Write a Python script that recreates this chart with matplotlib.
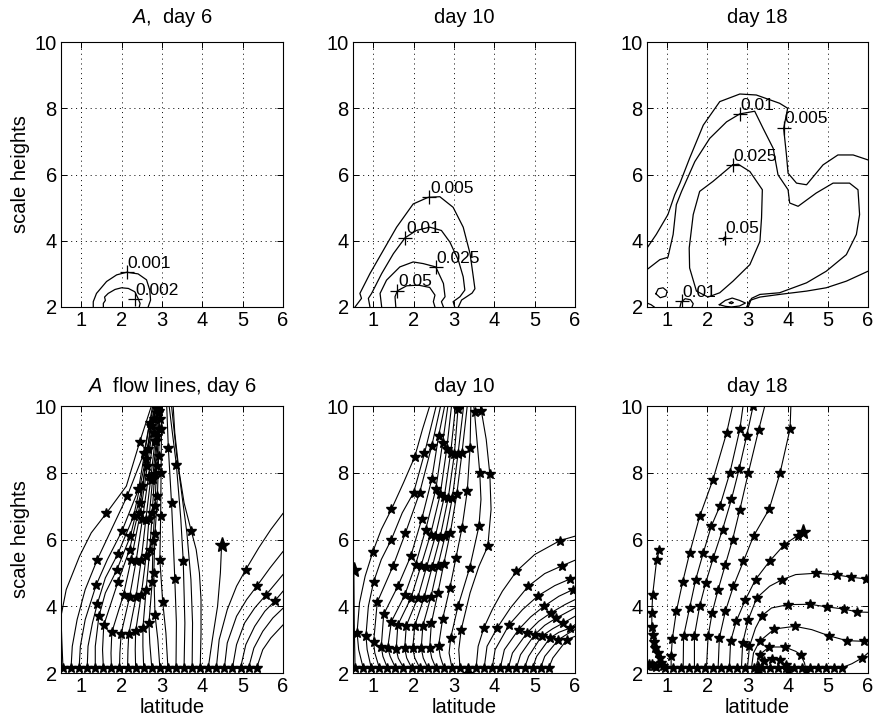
import matplotlib
matplotlib.use('Agg')
import matplotlib.pyplot as plt

plt.rcParams['font.family'] = ['Liberation Sans', 'DejaVu Sans']
plt.rcParams['mathtext.fontset'] = 'custom'
plt.rcParams['mathtext.rm'] = 'Liberation Sans'
plt.rcParams['mathtext.it'] = 'Liberation Sans:italic'

# ---------------- top row: contours of A (traced lines) ----------------
day6_contours = [
    ([1.30, 1.30, 1.38, 1.63, 1.88, 2.13, 2.41, 2.62, 2.70, 2.72, 2.66],
     [2.0, 2.16, 2.41, 2.77, 2.97, 3.05, 3.00, 2.82, 2.51, 2.21, 2.0]),
    ([1.55, 1.55, 1.60, 1.58, 1.67, 1.84, 2.00, 2.17, 2.33, 2.41, 2.46, 2.44],
     [2.0, 2.11, 2.20, 2.30, 2.41, 2.53, 2.58, 2.56, 2.46, 2.26, 2.11, 2.0]),
]
day6_labels = [(2.13, 3.05, '0.001'), (2.33, 2.23, '0.002')]

day10_contours = [
    ([0.55, 0.71, 0.67, 0.92, 1.25, 1.58, 1.99, 2.36, 2.65, 2.98, 3.23, 3.40, 3.48, 3.52, 3.45, 3.19, 3.11],
     [2.0, 2.26, 2.41, 3.01, 3.71, 4.41, 5.11, 5.31, 5.33, 5.01, 4.41, 3.61, 2.91, 2.55, 2.42, 2.21, 2.0]),
    ([0.92, 0.88, 0.96, 1.21, 1.50, 1.79, 2.07, 2.40, 2.69, 2.90, 3.11, 3.23, 3.27, 3.15, 2.98, 3.02],
     [2.0, 2.26, 2.41, 3.01, 3.61, 4.09, 4.31, 4.41, 4.31, 3.96, 3.41, 2.91, 2.51, 2.31, 2.16, 2.0]),
    ([1.21, 1.17, 1.33, 1.66, 1.99, 2.24, 2.55, 2.74, 2.78, 2.69, 2.74],
     [2.0, 2.41, 2.81, 3.21, 3.36, 3.31, 3.21, 2.71, 2.31, 2.16, 2.0]),
    ([1.56, 1.54, 1.60, 1.83, 2.12, 2.40, 2.53, 2.49, 2.53],
     [2.0, 2.31, 2.49, 2.64, 2.66, 2.59, 2.36, 2.16, 2.0]),
]
day10_labels = [(2.39, 5.31, '0.005'), (1.79, 4.09, '0.01'),
                (2.55, 3.21, '0.025'), (1.60, 2.49, '0.05')]

day18_contours = [
    ([0.50, 0.73, 1.02, 1.19, 1.32, 1.56, 1.90, 2.31, 2.81, 3.22, 3.80, 4.00, 3.90, 3.97, 4.01,
      4.22, 4.47, 4.88, 5.25, 5.63, 6.00],
     [3.78, 4.19, 4.79, 5.39, 5.74, 6.49, 7.49, 8.20, 8.43, 8.40, 8.15, 8.00, 7.39, 6.59, 6.04,
      5.74, 5.69, 6.29, 6.59, 6.59, 6.44]),
    ([6.00, 5.46, 4.96, 4.47, 3.80, 3.31, 3.06, 2.98],
     [3.08, 2.78, 2.58, 2.48, 2.38, 2.30, 2.20, 2.00]),
    ([0.50, 0.82, 1.02, 1.15, 1.23, 1.36, 1.69, 2.06, 2.48, 2.81, 3.18, 3.39, 3.64, 3.76, 4.01,
      4.05, 4.26, 4.71, 5.13, 5.54, 5.75, 5.79, 5.71, 5.46, 4.96, 4.47, 3.80, 3.31, 3.10, 3.02],
     [3.13, 3.43, 3.50, 4.19, 5.09, 5.49, 6.39, 7.09, 7.59, 7.83, 7.91, 7.39, 6.79, 5.99, 5.54,
      5.14, 5.04, 5.44, 5.74, 5.74, 5.54, 4.79, 4.19, 3.58, 3.08, 2.73, 2.43, 2.38, 2.26, 2.00]),
    ([2.63, 2.77, 3.06, 3.37, 3.35, 3.31, 3.06, 2.64, 2.31, 2.02, 1.73, 1.56, 1.55, 1.65, 1.81, 2.14, 2.63],
     [6.29, 6.31, 6.09, 5.54, 4.69, 3.98, 3.28, 2.78, 2.43, 2.30, 2.48, 3.18, 3.78, 4.79, 5.49, 5.79, 6.29]),
    ([0.72, 0.78, 0.90, 1.00, 0.97, 0.83, 0.72],
     [2.40, 2.55, 2.58, 2.48, 2.33, 2.28, 2.40]),
    ([1.32, 1.35, 1.45, 1.58, 1.65, 1.62],
     [2.00, 2.15, 2.25, 2.22, 2.10, 2.00]),
    ([2.30, 2.45, 2.62, 2.80, 2.95, 2.80, 2.60, 2.45, 2.30],
     [2.07, 2.20, 2.27, 2.20, 2.12, 2.03, 2.00, 2.02, 2.07]),
    ([2.55, 2.60, 2.65, 2.60, 2.55], [2.13, 2.16, 2.13, 2.10, 2.13]),
    ([0.50, 0.60, 0.68], [2.12, 2.07, 2.00]),
    ([2.40, 2.44, 2.46, 2.42, 2.40], [4.02, 4.06, 4.12, 4.10, 4.02]),
]
day18_labels = [(2.81, 7.83, '0.01'), (3.90, 7.41, '0.005'), (2.63, 6.29, '0.025'),
                (2.43, 4.09, '0.05'), (1.36, 2.18, '0.01')]

# ---------------- bottom row: flow lines (vertices, star indices) ----------------
base_y = 2.16

day6_base_x = [0.55, 0.75, 0.95, 1.15, 1.35, 1.55, 1.75, 1.95, 2.15, 2.35, 2.55, 2.75, 2.95,
               3.15, 3.35, 3.55, 3.75, 3.95, 4.15, 4.35, 4.55, 4.75, 4.95, 5.15, 5.35]
day6_lines = [
    ([(0.55, 2.16), (0.52, 3.0), (0.50, 3.7), (0.63, 4.5), (0.96, 5.5), (1.25, 6.2), (1.62, 6.78),
      (2.12, 7.6), (2.45, 8.92), (2.74, 10)], [6, 8]),
    ([(0.75, 2.16), (0.78, 2.8), (0.90, 3.6), (1.10, 4.5), (1.40, 5.40), (1.75, 6.3), (2.14, 7.3),
      (2.56, 8.6), (2.77, 10)], [4, 6, 7]),
    ([(0.95, 2.16), (0.98, 2.8), (1.10, 3.6), (1.37, 4.63), (1.65, 5.4), (2.01, 6.25), (2.42, 7.5),
      (2.70, 9.5), (2.80, 10)], [3, 5, 6, 7]),
    ([(1.15, 2.16), (1.17, 2.8), (1.28, 3.5), (1.40, 4.07), (1.60, 4.85), (1.91, 5.57), (2.30, 6.7),
      (2.60, 8.4), (2.82, 10)], [3, 5, 6, 7]),
    ([(1.35, 2.16), (1.35, 2.8), (1.44, 3.70), (1.60, 4.4), (1.88, 5.08), (2.22, 6.1), (2.52, 7.6),
      (2.72, 9.4), (2.84, 10)], [2, 4, 5, 6, 7]),
    ([(1.55, 2.16), (1.53, 2.7), (1.56, 3.43), (1.91, 4.72), (2.20, 5.7), (2.47, 7.1), (2.66, 8.7),
      (2.86, 10)], [2, 3, 4, 5, 6]),
    ([(1.75, 2.16), (1.74, 2.6), (1.76, 3.22), (2.05, 4.35), (2.24, 5.40), (2.47, 6.8), (2.64, 8.2),
      (2.80, 9.6), (2.88, 10)], [2, 3, 4, 5, 6, 7]),
    ([(1.95, 2.16), (1.96, 2.6), (1.99, 3.17), (2.20, 4.28), (2.36, 5.35), (2.52, 6.62), (2.67, 7.9),
      (2.80, 9.2), (2.90, 10)], [2, 3, 4, 5, 6, 7]),
    ([(2.15, 2.16), (2.16, 2.7), (2.18, 3.17), (2.36, 4.28), (2.49, 5.40), (2.60, 6.58), (2.72, 7.78),
      (2.83, 8.95), (2.88, 9.9), (2.92, 10)], [2, 3, 4, 5, 6, 7, 8]),
    ([(2.35, 2.16), (2.34, 2.7), (2.35, 3.25), (2.49, 4.35), (2.61, 5.5), (2.68, 6.62), (2.77, 7.8),
      (2.86, 8.95), (2.90, 9.8), (2.93, 10)], [2, 3, 4, 5, 6, 7, 8]),
    ([(2.55, 2.16), (2.53, 2.8), (2.53, 3.35), (2.61, 4.5), (2.70, 5.68), (2.76, 6.78), (2.82, 7.95),
      (2.89, 9.1), (2.93, 9.85), (2.95, 10)], [2, 3, 4, 5, 6, 7, 8]),
    ([(2.75, 2.16), (2.70, 2.9), (2.68, 3.5), (2.76, 4.72), (2.78, 5.95), (2.83, 7.0), (2.87, 8.2),
      (2.92, 9.3), (2.96, 10)], [2, 3, 4, 5, 6, 7]),
    ([(2.95, 2.16), (2.90, 3.0), (2.83, 3.75), (2.80, 5.0), (2.83, 6.18), (2.89, 7.3), (2.92, 8.5),
      (2.95, 9.6), (2.98, 10)], [2, 3, 4, 5, 6, 7]),
    ([(3.15, 2.16), (3.10, 3.2), (3.02, 4.14), (2.95, 5.4), (2.97, 6.7), (2.98, 8.0), (2.99, 9.3),
      (3.00, 10)], [2, 3, 4, 5, 6]),
    ([(3.35, 2.16), (3.36, 3.5), (3.32, 4.83), (3.28, 6.0), (3.24, 7.08), (3.16, 8.75), (3.12, 10)],
     [2, 4, 5]),
    ([(3.55, 2.16), (3.57, 3.5), (3.53, 5.35), (3.47, 6.6), (3.36, 8.23), (3.25, 9.3), (3.18, 10)],
     [2, 4]),
    ([(3.75, 2.16), (3.76, 3.5), (3.72, 4.8), (3.62, 6.2), (3.50, 7.3), (3.36, 8.6), (3.24, 10)], []),
    ([(3.95, 2.16), (3.97, 3.2), (3.97, 4.2), (3.93, 5.0), (3.85, 5.7), (3.73, 6.25), (3.55, 7.1),
      (3.42, 8.1), (3.32, 9.2), (3.28, 10)], [5]),
    ([(4.15, 2.16), (4.25, 3.0), (4.38, 4.0), (4.45, 5.0), (4.48, 5.85)], []),
    ([(4.35, 2.16), (4.42, 3.0), (4.62, 3.9), (4.85, 4.6), (5.08, 5.10), (5.40, 5.75), (5.70, 6.3),
      (6.00, 6.78)], [4]),
    ([(4.55, 2.16), (4.62, 2.9), (4.85, 3.7), (5.10, 4.2), (5.35, 4.6), (5.68, 5.15), (6.00, 5.64)], [4]),
    ([(4.75, 2.16), (4.85, 2.85), (5.05, 3.5), (5.30, 3.95), (5.58, 4.34), (6.00, 4.95)], [4]),
    ([(4.95, 2.16), (5.08, 2.85), (5.30, 3.4), (5.55, 3.85), (5.80, 4.16), (6.00, 4.45)], [4]),
    ([(5.15, 2.16), (5.28, 2.75), (5.50, 3.25), (5.75, 3.65), (6.00, 3.94)], []),
    ([(5.35, 2.16), (5.50, 2.7), (5.70, 3.05), (6.00, 3.44)], []),
]
day6_ends = [(4.48, 5.85)]

day10_base_x = list(day6_base_x)
day10_lines = [
    ([(0.55, 2.16), (0.53, 3.5), (0.52, 5.1)], []),
    ([(0.75, 2.16), (0.64, 2.7), (0.60, 3.21), (0.66, 4.1), (0.80, 4.9), (0.99, 5.63), (1.20, 6.3),
      (1.45, 6.9), (1.75, 7.7), (2.03, 8.48), (2.22, 9.3), (2.40, 10)], [2, 5, 7, 9]),
    ([(0.95, 2.16), (0.85, 2.7), (0.82, 3.12), (0.88, 4.0), (1.01, 4.73), (1.20, 5.4), (1.45, 6.0),
      (1.72, 6.8), (2.00, 7.4), (2.27, 8.58), (2.56, 10)], [2, 4, 6, 8, 9]),
    ([(1.15, 2.16), (1.04, 2.6), (1.01, 2.92), (1.10, 4.12), (1.49, 5.2), (1.80, 6.2), (2.15, 7.4),
      (2.45, 8.8), (2.67, 10)], [2, 3, 4, 5, 6, 7]),
    ([(1.35, 2.16), (1.24, 2.5), (1.20, 2.79), (1.26, 3.76), (1.61, 4.6), (1.93, 5.5), (2.20, 6.6),
      (2.45, 7.8), (2.62, 9.1), (2.77, 10)], [2, 3, 4, 5, 6, 7, 8]),
    ([(1.55, 2.16), (1.42, 2.5), (1.36, 2.76), (1.45, 3.54), (1.78, 4.33), (2.05, 5.25), (2.30, 6.3),
      (2.55, 7.5), (2.72, 8.9), (2.85, 10)], [2, 3, 4, 5, 6, 7, 8]),
    ([(1.75, 2.16), (1.62, 2.45), (1.57, 2.72), (1.61, 3.44), (1.94, 4.26), (2.18, 5.2), (2.42, 6.15),
      (2.66, 7.35), (2.82, 8.7), (2.94, 10)], [2, 3, 4, 5, 6, 7, 8]),
    ([(1.95, 2.16), (1.83, 2.45), (1.78, 2.74), (1.82, 3.42), (2.10, 4.24), (2.32, 5.17), (2.54, 6.1),
      (2.76, 7.27), (2.92, 8.6), (3.04, 10)], [2, 3, 4, 5, 6, 7, 8]),
    ([(2.15, 2.16), (2.03, 2.45), (1.98, 2.74), (2.03, 3.42), (2.26, 4.26), (2.46, 5.17), (2.66, 6.08),
      (2.86, 7.25), (3.01, 8.55), (3.10, 9.9), (3.14, 10)], [2, 3, 4, 5, 6, 7, 8, 9]),
    ([(2.35, 2.16), (2.24, 2.45), (2.19, 2.74), (2.23, 3.42), (2.43, 4.28), (2.60, 5.2), (2.78, 6.1),
      (2.96, 7.25), (3.10, 8.55), (3.24, 10)], [2, 3, 4, 5, 6, 7, 8]),
    ([(2.55, 2.16), (2.45, 2.45), (2.40, 2.76), (2.44, 3.49), (2.60, 4.39), (2.75, 5.28), (2.91, 6.2),
      (3.07, 7.35), (3.20, 8.6), (3.33, 10)], [2, 3, 4, 5, 6, 7, 8]),
    ([(2.75, 2.16), (2.66, 2.5), (2.62, 2.82), (2.72, 3.62), (2.90, 4.55), (3.05, 5.45), (3.20, 6.35),
      (3.33, 7.45), (3.40, 8.75), (3.42, 10)], [2, 3, 4, 5, 6, 7, 8]),
    ([(2.95, 2.16), (2.88, 2.6), (2.92, 3.05), (3.10, 4.0), (3.39, 5.15), (3.62, 6.4), (3.67, 7.2),
      (3.64, 8.0), (3.51, 9.82), (3.49, 10)], [2, 3, 4, 5, 7, 8]),
    ([(3.15, 2.16), (3.12, 2.7), (3.18, 3.3), (3.40, 4.4), (3.62, 5.2), (3.84, 5.8), (3.92, 6.9),
      (3.89, 7.95), (3.80, 9.0), (3.68, 9.85), (3.65, 10)], [2, 5, 7, 9]),
    ([(3.35, 2.16), (3.35, 1.98)], [1]),
    ([(3.55, 2.16), (3.60, 2.8), (3.74, 3.35), (3.95, 3.9), (4.20, 4.45), (4.55, 5.05), (5.00, 5.55),
      (5.63, 5.97), (6.00, 6.1)], [2, 5, 7]),
    ([(3.75, 2.16), (3.82, 2.8), (4.07, 3.35), (4.40, 3.95), (4.84, 4.6), (5.25, 4.98), (5.69, 5.22),
      (6.00, 5.38)], [2, 4, 6]),
    ([(3.95, 2.16), (4.02, 2.7), (4.37, 3.45), (4.70, 3.9), (5.09, 4.32), (5.50, 4.62), (5.88, 4.82),
      (6.00, 4.87)], [2, 4, 6]),
    ([(4.15, 2.16), (4.25, 2.7), (4.60, 3.3), (4.90, 3.68), (5.23, 4.0), (5.60, 4.3), (5.95, 4.5),
      (6.00, 4.52)], [2, 4, 6]),
    ([(4.35, 2.16), (4.45, 2.6), (4.81, 3.2), (5.10, 3.55), (5.40, 3.8), (5.75, 4.05), (6.00, 4.2)], [2, 4]),
    ([(4.55, 2.16), (4.65, 2.55), (5.00, 3.15), (5.25, 3.43), (5.54, 3.65), (6.00, 3.95)], [2, 4]),
    ([(4.75, 2.16), (4.85, 2.5), (5.17, 3.1), (5.45, 3.33), (5.71, 3.5), (6.00, 3.7)], [2, 4]),
    ([(4.95, 2.16), (5.05, 2.5), (5.38, 3.05), (5.60, 3.22), (5.88, 3.35), (6.00, 3.45)], [2, 4]),
    ([(5.15, 2.16), (5.25, 2.5), (5.59, 3.0), (5.85, 3.2), (6.00, 3.3)], [2]),
    ([(5.35, 2.16), (5.45, 2.45), (5.80, 3.0), (6.00, 3.1)], [2]),
]
day10_ends = [(0.52, 5.1)]

day18_base_x = [0.95, 1.15, 1.35, 1.55, 1.75, 1.95, 2.15, 2.35, 2.55, 2.75, 2.95, 3.15,
                3.35, 3.55, 3.75, 3.95, 4.15, 4.35, 4.55, 4.75, 4.95, 5.15, 5.35]
day18_lines = [
    ([(0.50, 2.22), (0.55, 2.27), (0.62, 2.27), (0.68, 2.22), (0.72, 2.17)], [0, 1, 2, 3, 4]),
    ([(0.95, 2.16), (0.91, 2.2), (0.86, 2.29), (0.82, 2.44), (0.77, 2.59), (0.71, 2.74), (0.67, 2.94),
      (0.64, 3.14), (0.62, 3.39), (0.62, 3.79), (0.64, 4.34), (0.74, 5.39), (0.81, 5.69)],
     [1, 2, 3, 4, 5, 6, 7, 8, 9, 10, 11, 12]),
    ([(1.10, 2.16), (1.10, 2.5), (1.13, 3.02), (1.23, 3.85), (1.39, 4.74), (1.56, 5.59), (1.81, 6.69),
      (2.14, 7.79), (2.48, 9.19), (2.63, 10)], [1, 2, 3, 4, 5, 6, 7, 8]),
    ([(1.40, 2.16), (1.41, 3.1), (1.56, 3.95), (1.71, 4.79), (1.90, 5.6), (2.10, 6.4), (2.31, 6.99),
      (2.56, 7.99), (2.81, 9.3), (2.89, 10)], [1, 2, 3, 4, 5, 6, 7, 8]),
    ([(1.68, 2.16), (1.68, 3.12), (1.81, 4.0), (1.96, 4.7), (2.15, 5.45), (2.38, 6.3), (2.60, 7.2),
      (2.79, 8.1), (2.98, 9.1), (3.14, 10)], [1, 2, 3, 4, 5, 6, 7, 8, 9]),
    ([(1.98, 2.16), (2.02, 3.1), (2.12, 3.8), (2.27, 4.5), (2.45, 5.25), (2.63, 6.0), (2.81, 6.89),
      (3.02, 7.99), (3.28, 9.29), (3.43, 10)], [1, 2, 3, 4, 5, 6, 7, 8]),
    ([(2.27, 2.16), (2.30, 3.05), (2.45, 3.85), (2.65, 4.6), (2.90, 5.35), (3.15, 6.1), (3.54, 6.91),
      (3.81, 7.99), (4.00, 9.0), (4.06, 9.31), (4.08, 10)], [1, 2, 3, 4, 5, 6, 7, 9]),
    ([(2.55, 2.16), (2.58, 2.95), (2.72, 3.55), (2.95, 4.2), (3.20, 4.8), (3.55, 5.35), (3.92, 5.85),
      (4.25, 6.12), (4.38, 6.22)], [1, 2, 3, 4, 5, 6, 7]),
    ([(2.85, 2.16), (2.88, 2.9), (3.02, 3.6), (3.23, 4.25), (3.55, 4.6), (3.85, 4.79), (4.20, 4.95),
      (4.71, 4.99), (5.22, 4.94), (5.58, 4.87), (5.96, 4.82), (6.00, 4.82)], [1, 2, 3, 5, 7, 8, 9, 10]),
    ([(3.00, 2.16), (3.05, 2.8), (3.20, 3.35), (3.36, 3.72), (3.60, 3.95), (4.02, 4.05), (4.56, 4.06),
      (4.98, 3.98), (5.39, 3.92), (5.73, 3.83), (6.00, 3.82)], [1, 3, 5, 6, 7, 8, 9]),
    ([(3.10, 2.16), (3.15, 2.6), (3.30, 2.95), (3.67, 3.32), (4.18, 3.4), (4.60, 3.3), (5.02, 3.12),
      (5.47, 2.97), (5.91, 2.95), (6.00, 2.95)], [2, 3, 4, 6, 7, 8]),
    ([(3.20, 2.16), (3.30, 2.55), (3.54, 2.78), (3.93, 2.78), (4.20, 2.65), (4.32, 2.55), (4.42, 2.3),
      (4.46, 2.05)], [1, 2, 3, 5, 7]),
    ([(3.27, 2.16), (3.40, 2.35), (3.60, 2.42), (3.80, 2.38), (3.95, 2.25), (4.00, 2.1)], [1, 2, 3, 4, 5]),
    ([(5.35, 2.16), (5.60, 2.28), (5.85, 2.45), (6.00, 2.6)], [2]),
]
day18_ends = [(4.38, 6.22), (3.27, 2.12)]

# ---------------- layout ----------------
fig = plt.figure(figsize=(8.76, 7.28), dpi=100)
cols = [(0.0696, 0.2534), (0.4030, 0.2534), (0.7386, 0.2523)]
top_row = (0.5783, 0.3640)
bot_row = (0.0755, 0.3668)

top_titles = [r'$\mathit{A}$,  day 6', 'day 10', 'day 18']
bot_titles = [r'$\mathit{A}$  flow lines, day 6', 'day 10', 'day 18']
FS = 14.5


def setup(ax):
    ax.set_xlim(0.5, 6)
    ax.set_ylim(2, 10)
    ax.set_xticks([1, 2, 3, 4, 5, 6])
    ax.set_yticks([2, 4, 6, 8, 10])
    ax.grid(True, color='k', linestyle=(0, (1, 4)), linewidth=0.7)
    ax.tick_params(direction='in', length=4, width=0.7, labelsize=FS, top=True, right=True, pad=3)
    for s in ax.spines.values():
        s.set_linewidth(0.8)


def draw_contours(ax, contours, labels):
    for xs, ys in contours:
        ax.plot(xs, ys, color='k', lw=0.9)
    for x, y, txt in labels:
        ax.plot(x, y, marker='+', color='k', ms=10, mew=0.9)
        ax.text(x + 0.02, y + 0.13, txt, fontsize=12.5, va='baseline', ha='left')


def draw_flow(ax, lines, bx, ends):
    for pts, marks in lines:
        xs = [p[0] for p in pts]
        ys = [p[1] for p in pts]
        ax.plot(xs, ys, color='k', lw=0.8)
        ax.plot([xs[i] for i in marks], [ys[i] for i in marks], ls='none',
                marker='*', ms=7, color='k')
    ax.plot(bx, [base_y] * len(bx), color='k', lw=0.8, marker='*', ms=7)
    for x, y in ends:
        ax.plot(x, y, marker='*', ms=11, color='k')


panels_top = [(day6_contours, day6_labels), (day10_contours, day10_labels),
              (day18_contours, day18_labels)]
panels_bot = [(day6_lines, day6_base_x, day6_ends), (day10_lines, day10_base_x, day10_ends),
              (day18_lines, day18_base_x, day18_ends)]

for i, (l, w) in enumerate(cols):
    ax = fig.add_axes([l, top_row[0], w, top_row[1]])
    setup(ax)
    draw_contours(ax, *panels_top[i])
    ax.set_title(top_titles[i], fontsize=FS, pad=14)
    if i == 0:
        ax.set_ylabel('scale heights', fontsize=FS, labelpad=3)

    ax = fig.add_axes([l, bot_row[0], w, bot_row[1]])
    setup(ax)
    draw_flow(ax, *panels_bot[i])
    ax.set_title(bot_titles[i], fontsize=FS, pad=10)
    ax.set_xlabel('latitude', fontsize=FS, labelpad=1)
    if i == 0:
        ax.set_ylabel('scale heights', fontsize=FS, labelpad=3)

fig.savefig('out.png', dpi=100)
